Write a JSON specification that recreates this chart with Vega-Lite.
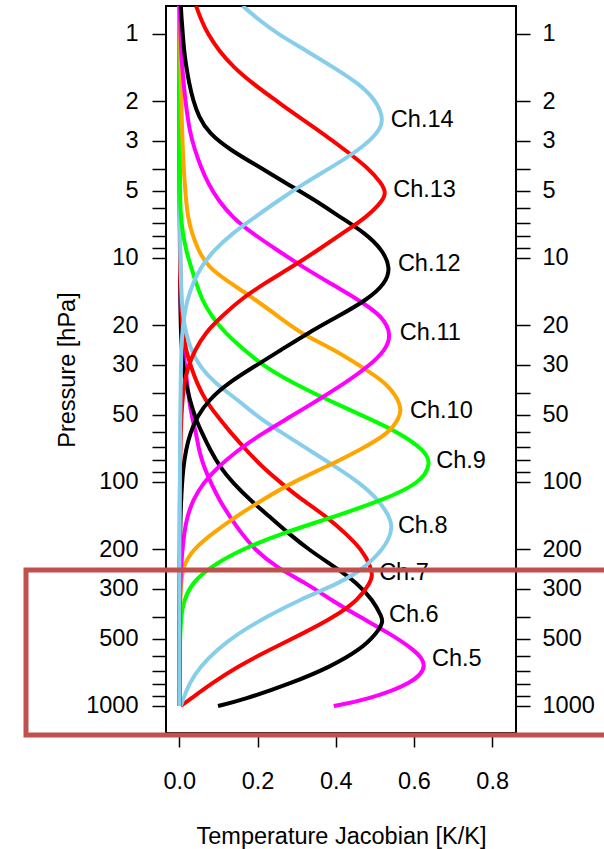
{
  "$schema": "https://vega.github.io/schema/vega-lite/v6.json",
  "width": 350,
  "height": 727,
  "autosize": "none",
  "padding": {"left": 166, "top": 6, "right": 88, "bottom": 116},
  "background": "white",
  "config": {
    "view": {"stroke": "black", "strokeWidth": 2},
    "font": "Liberation Sans",
    "axis": {"grid": false, "domain": false, "tickColor": "black", "tickWidth": 1.5, "tickSize": 14,
      "labelFont": "Liberation Sans", "labelFontSize": 23.5, "labelColor": "black",
      "titleFont": "Liberation Sans", "titleFontSize": 23.5, "titleFontWeight": "normal", "titleColor": "black"}
  },
  "datasets": {
    "curves": [
      {"ch":"Ch.5","p":0.75,"J":0},{"ch":"Ch.5","p":5.51,"J":0.001},{"ch":"Ch.5","p":15.4,"J":0.002},{"ch":"Ch.5","p":21.62,"J":0.006},{"ch":"Ch.5","p":30.66,"J":0.015},{"ch":"Ch.5","p":36.14,"J":0.02},{"ch":"Ch.5","p":43.05,"J":0.025},{"ch":"Ch.5","p":51.27,"J":0.032},{"ch":"Ch.5","p":60.42,"J":0.043},{"ch":"Ch.5","p":71.97,"J":0.05},{"ch":"Ch.5","p":85.7,"J":0.063},{"ch":"Ch.5","p":101,"J":0.081},{"ch":"Ch.5","p":120.3,"J":0.102},{"ch":"Ch.5","p":143.3,"J":0.13},{"ch":"Ch.5","p":168.9,"J":0.158},{"ch":"Ch.5","p":201.2,"J":0.194},{"ch":"Ch.5","p":239.6,"J":0.247},{"ch":"Ch.5","p":282.4,"J":0.324},{"ch":"Ch.5","p":336.4,"J":0.388},{"ch":"Ch.5","p":400.6,"J":0.462},{"ch":"Ch.5","p":472.2,"J":0.536},{"ch":"Ch.5","p":562.3,"J":0.602},{"ch":"Ch.5","p":655,"J":0.637},{"ch":"Ch.5","p":789.5,"J":0.601},{"ch":"Ch.5","p":940.2,"J":0.478},{"ch":"Ch.5","p":1000,"J":0.395},
      {"ch":"Ch.6","p":0.75,"J":0},{"ch":"Ch.6","p":15.4,"J":0.002},{"ch":"Ch.6","p":21.62,"J":0.004},{"ch":"Ch.6","p":30.66,"J":0.009},{"ch":"Ch.6","p":36.14,"J":0.017},{"ch":"Ch.6","p":43.05,"J":0.027},{"ch":"Ch.6","p":51.27,"J":0.04},{"ch":"Ch.6","p":60.42,"J":0.058},{"ch":"Ch.6","p":71.97,"J":0.079},{"ch":"Ch.6","p":85.7,"J":0.104},{"ch":"Ch.6","p":101,"J":0.137},{"ch":"Ch.6","p":120.3,"J":0.181},{"ch":"Ch.6","p":143.3,"J":0.232},{"ch":"Ch.6","p":168.9,"J":0.278},{"ch":"Ch.6","p":201.2,"J":0.332},{"ch":"Ch.6","p":239.6,"J":0.398},{"ch":"Ch.6","p":282.4,"J":0.455},{"ch":"Ch.6","p":336.4,"J":0.495},{"ch":"Ch.6","p":400.6,"J":0.518},{"ch":"Ch.6","p":421.7,"J":0.521},{"ch":"Ch.6","p":472.2,"J":0.506},{"ch":"Ch.6","p":562.3,"J":0.462},{"ch":"Ch.6","p":669.8,"J":0.385},{"ch":"Ch.6","p":789.5,"J":0.288},{"ch":"Ch.6","p":940.2,"J":0.162},{"ch":"Ch.6","p":1000,"J":0.099},
      {"ch":"Ch.7","p":0.75,"J":0},{"ch":"Ch.7","p":9.21,"J":0.001},{"ch":"Ch.7","p":15.4,"J":0.003},{"ch":"Ch.7","p":21.62,"J":0.009},{"ch":"Ch.7","p":25.75,"J":0.017},{"ch":"Ch.7","p":30.66,"J":0.03},{"ch":"Ch.7","p":36.14,"J":0.045},{"ch":"Ch.7","p":43.05,"J":0.066},{"ch":"Ch.7","p":51.27,"J":0.099},{"ch":"Ch.7","p":60.42,"J":0.132},{"ch":"Ch.7","p":71.97,"J":0.171},{"ch":"Ch.7","p":85.7,"J":0.212},{"ch":"Ch.7","p":101,"J":0.26},{"ch":"Ch.7","p":120.3,"J":0.314},{"ch":"Ch.7","p":143.3,"J":0.378},{"ch":"Ch.7","p":168.9,"J":0.424},{"ch":"Ch.7","p":201.2,"J":0.468},{"ch":"Ch.7","p":239.6,"J":0.49},{"ch":"Ch.7","p":262,"J":0.494},{"ch":"Ch.7","p":282.4,"J":0.488},{"ch":"Ch.7","p":336.4,"J":0.458},{"ch":"Ch.7","p":400.6,"J":0.396},{"ch":"Ch.7","p":472.2,"J":0.319},{"ch":"Ch.7","p":562.3,"J":0.229},{"ch":"Ch.7","p":669.8,"J":0.148},{"ch":"Ch.7","p":789.5,"J":0.084},{"ch":"Ch.7","p":940.2,"J":0.025},{"ch":"Ch.7","p":1000,"J":0.004},
      {"ch":"Ch.8","p":0.75,"J":0},{"ch":"Ch.8","p":5.51,"J":0.001},{"ch":"Ch.8","p":9.21,"J":0.002},{"ch":"Ch.8","p":12.93,"J":0.004},{"ch":"Ch.8","p":18.34,"J":0.009},{"ch":"Ch.8","p":21.62,"J":0.017},{"ch":"Ch.8","p":25.75,"J":0.03},{"ch":"Ch.8","p":30.66,"J":0.053},{"ch":"Ch.8","p":36.14,"J":0.091},{"ch":"Ch.8","p":43.05,"J":0.15},{"ch":"Ch.8","p":51.27,"J":0.201},{"ch":"Ch.8","p":60.42,"J":0.263},{"ch":"Ch.8","p":71.97,"J":0.332},{"ch":"Ch.8","p":85.7,"J":0.401},{"ch":"Ch.8","p":101,"J":0.462},{"ch":"Ch.8","p":120.3,"J":0.51},{"ch":"Ch.8","p":143.3,"J":0.538},{"ch":"Ch.8","p":158.8,"J":0.545},{"ch":"Ch.8","p":181.5,"J":0.535},{"ch":"Ch.8","p":201.2,"J":0.518},{"ch":"Ch.8","p":239.6,"J":0.477},{"ch":"Ch.8","p":282.4,"J":0.411},{"ch":"Ch.8","p":336.4,"J":0.306},{"ch":"Ch.8","p":400.6,"J":0.222},{"ch":"Ch.8","p":472.2,"J":0.152},{"ch":"Ch.8","p":562.3,"J":0.095},{"ch":"Ch.8","p":669.8,"J":0.053},{"ch":"Ch.8","p":789.5,"J":0.026},{"ch":"Ch.8","p":940.2,"J":0.009},{"ch":"Ch.8","p":1000,"J":0.004},
      {"ch":"Ch.9","p":0.75,"J":0},{"ch":"Ch.9","p":3.295,"J":0.001},{"ch":"Ch.9","p":5.51,"J":0.002},{"ch":"Ch.9","p":6.561,"J":0.004},{"ch":"Ch.9","p":7.734,"J":0.009},{"ch":"Ch.9","p":9.21,"J":0.017},{"ch":"Ch.9","p":10.97,"J":0.03},{"ch":"Ch.9","p":12.93,"J":0.043},{"ch":"Ch.9","p":15.4,"J":0.058},{"ch":"Ch.9","p":18.34,"J":0.084},{"ch":"Ch.9","p":21.62,"J":0.117},{"ch":"Ch.9","p":25.75,"J":0.166},{"ch":"Ch.9","p":30.66,"J":0.219},{"ch":"Ch.9","p":36.14,"J":0.291},{"ch":"Ch.9","p":43.05,"J":0.38},{"ch":"Ch.9","p":51.27,"J":0.477},{"ch":"Ch.9","p":60.42,"J":0.564},{"ch":"Ch.9","p":71.97,"J":0.626},{"ch":"Ch.9","p":82.3,"J":0.645},{"ch":"Ch.9","p":101,"J":0.617},{"ch":"Ch.9","p":120.3,"J":0.521},{"ch":"Ch.9","p":143.3,"J":0.394},{"ch":"Ch.9","p":168.9,"J":0.265},{"ch":"Ch.9","p":201.2,"J":0.155},{"ch":"Ch.9","p":239.6,"J":0.079},{"ch":"Ch.9","p":282.4,"J":0.032},{"ch":"Ch.9","p":336.4,"J":0.012},{"ch":"Ch.9","p":400.6,"J":0.004},{"ch":"Ch.9","p":562.3,"J":0.001},{"ch":"Ch.9","p":1000,"J":0},
      {"ch":"Ch.10","p":0.75,"J":0.001},{"ch":"Ch.10","p":1.404,"J":0.003},{"ch":"Ch.10","p":2.767,"J":0.007},{"ch":"Ch.10","p":3.925,"J":0.011},{"ch":"Ch.10","p":5.51,"J":0.017},{"ch":"Ch.10","p":6.561,"J":0.022},{"ch":"Ch.10","p":7.734,"J":0.032},{"ch":"Ch.10","p":9.21,"J":0.048},{"ch":"Ch.10","p":10.97,"J":0.073},{"ch":"Ch.10","p":12.93,"J":0.13},{"ch":"Ch.10","p":15.4,"J":0.196},{"ch":"Ch.10","p":18.34,"J":0.255},{"ch":"Ch.10","p":21.62,"J":0.309},{"ch":"Ch.10","p":25.75,"J":0.398},{"ch":"Ch.10","p":30.66,"J":0.467},{"ch":"Ch.10","p":36.14,"J":0.53},{"ch":"Ch.10","p":43.05,"J":0.561},{"ch":"Ch.10","p":47.7,"J":0.567},{"ch":"Ch.10","p":51.27,"J":0.563},{"ch":"Ch.10","p":60.42,"J":0.538},{"ch":"Ch.10","p":71.97,"J":0.462},{"ch":"Ch.10","p":85.7,"J":0.375},{"ch":"Ch.10","p":101,"J":0.286},{"ch":"Ch.10","p":120.3,"J":0.212},{"ch":"Ch.10","p":143.3,"J":0.143},{"ch":"Ch.10","p":168.9,"J":0.086},{"ch":"Ch.10","p":201.2,"J":0.033},{"ch":"Ch.10","p":239.6,"J":0.009},{"ch":"Ch.10","p":282.4,"J":0.004},{"ch":"Ch.10","p":400.6,"J":0.001},{"ch":"Ch.10","p":1000,"J":0},
      {"ch":"Ch.11","p":0.75,"J":0.001},{"ch":"Ch.11","p":1.0,"J":0.003},{"ch":"Ch.11","p":1.404,"J":0.007},{"ch":"Ch.11","p":1.971,"J":0.015},{"ch":"Ch.11","p":2.767,"J":0.027},{"ch":"Ch.11","p":3.295,"J":0.04},{"ch":"Ch.11","p":3.925,"J":0.055},{"ch":"Ch.11","p":4.626,"J":0.073},{"ch":"Ch.11","p":5.51,"J":0.099},{"ch":"Ch.11","p":6.561,"J":0.135},{"ch":"Ch.11","p":7.734,"J":0.185},{"ch":"Ch.11","p":9.21,"J":0.25},{"ch":"Ch.11","p":10.97,"J":0.316},{"ch":"Ch.11","p":12.93,"J":0.385},{"ch":"Ch.11","p":15.4,"J":0.459},{"ch":"Ch.11","p":18.34,"J":0.522},{"ch":"Ch.11","p":22.07,"J":0.542},{"ch":"Ch.11","p":25.75,"J":0.528},{"ch":"Ch.11","p":30.66,"J":0.482},{"ch":"Ch.11","p":36.14,"J":0.424},{"ch":"Ch.11","p":43.05,"J":0.355},{"ch":"Ch.11","p":51.27,"J":0.283},{"ch":"Ch.11","p":60.42,"J":0.214},{"ch":"Ch.11","p":71.97,"J":0.15},{"ch":"Ch.11","p":85.7,"J":0.099},{"ch":"Ch.11","p":101,"J":0.061},{"ch":"Ch.11","p":120.3,"J":0.035},{"ch":"Ch.11","p":143.3,"J":0.02},{"ch":"Ch.11","p":168.9,"J":0.012},{"ch":"Ch.11","p":239.6,"J":0.004},{"ch":"Ch.11","p":336.4,"J":0.001},{"ch":"Ch.11","p":1000,"J":0},
      {"ch":"Ch.12","p":0.75,"J":0.004},{"ch":"Ch.12","p":0.866,"J":0.006},{"ch":"Ch.12","p":1.0,"J":0.009},{"ch":"Ch.12","p":1.179,"J":0.012},{"ch":"Ch.12","p":1.404,"J":0.018},{"ch":"Ch.12","p":1.655,"J":0.025},{"ch":"Ch.12","p":1.971,"J":0.035},{"ch":"Ch.12","p":2.347,"J":0.05},{"ch":"Ch.12","p":2.767,"J":0.075},{"ch":"Ch.12","p":3.295,"J":0.13},{"ch":"Ch.12","p":3.925,"J":0.205},{"ch":"Ch.12","p":4.626,"J":0.272},{"ch":"Ch.12","p":5.51,"J":0.347},{"ch":"Ch.12","p":6.561,"J":0.411},{"ch":"Ch.12","p":7.734,"J":0.475},{"ch":"Ch.12","p":9.21,"J":0.52},{"ch":"Ch.12","p":11.08,"J":0.54},{"ch":"Ch.12","p":12.93,"J":0.528},{"ch":"Ch.12","p":15.4,"J":0.48},{"ch":"Ch.12","p":18.34,"J":0.403},{"ch":"Ch.12","p":21.62,"J":0.329},{"ch":"Ch.12","p":25.75,"J":0.26},{"ch":"Ch.12","p":30.66,"J":0.19},{"ch":"Ch.12","p":36.14,"J":0.125},{"ch":"Ch.12","p":43.05,"J":0.075},{"ch":"Ch.12","p":51.27,"J":0.045},{"ch":"Ch.12","p":60.42,"J":0.028},{"ch":"Ch.12","p":71.97,"J":0.017},{"ch":"Ch.12","p":85.7,"J":0.01},{"ch":"Ch.12","p":120.3,"J":0.004},{"ch":"Ch.12","p":201.2,"J":0.001},{"ch":"Ch.12","p":1000,"J":0},
      {"ch":"Ch.13","p":0.75,"J":0.043},{"ch":"Ch.13","p":0.866,"J":0.056},{"ch":"Ch.13","p":1.0,"J":0.073},{"ch":"Ch.13","p":1.179,"J":0.1},{"ch":"Ch.13","p":1.404,"J":0.138},{"ch":"Ch.13","p":1.655,"J":0.186},{"ch":"Ch.13","p":1.971,"J":0.245},{"ch":"Ch.13","p":2.347,"J":0.306},{"ch":"Ch.13","p":2.767,"J":0.365},{"ch":"Ch.13","p":3.295,"J":0.424},{"ch":"Ch.13","p":3.925,"J":0.48},{"ch":"Ch.13","p":4.626,"J":0.517},{"ch":"Ch.13","p":5.075,"J":0.528},{"ch":"Ch.13","p":5.51,"J":0.522},{"ch":"Ch.13","p":6.561,"J":0.48},{"ch":"Ch.13","p":7.734,"J":0.418},{"ch":"Ch.13","p":9.21,"J":0.355},{"ch":"Ch.13","p":10.97,"J":0.288},{"ch":"Ch.13","p":12.93,"J":0.219},{"ch":"Ch.13","p":15.4,"J":0.155},{"ch":"Ch.13","p":18.34,"J":0.107},{"ch":"Ch.13","p":21.62,"J":0.066},{"ch":"Ch.13","p":25.75,"J":0.04},{"ch":"Ch.13","p":30.66,"J":0.022},{"ch":"Ch.13","p":36.14,"J":0.012},{"ch":"Ch.13","p":51.27,"J":0.004},{"ch":"Ch.13","p":101,"J":0.001},{"ch":"Ch.13","p":1000,"J":0},
      {"ch":"Ch.14","p":0.75,"J":0.162},{"ch":"Ch.14","p":0.866,"J":0.204},{"ch":"Ch.14","p":1.0,"J":0.252},{"ch":"Ch.14","p":1.179,"J":0.322},{"ch":"Ch.14","p":1.404,"J":0.393},{"ch":"Ch.14","p":1.655,"J":0.457},{"ch":"Ch.14","p":1.971,"J":0.503},{"ch":"Ch.14","p":2.42,"J":0.524},{"ch":"Ch.14","p":2.767,"J":0.508},{"ch":"Ch.14","p":3.295,"J":0.46},{"ch":"Ch.14","p":3.925,"J":0.39},{"ch":"Ch.14","p":4.626,"J":0.321},{"ch":"Ch.14","p":5.51,"J":0.255},{"ch":"Ch.14","p":6.561,"J":0.194},{"ch":"Ch.14","p":7.734,"J":0.137},{"ch":"Ch.14","p":9.21,"J":0.089},{"ch":"Ch.14","p":10.97,"J":0.055},{"ch":"Ch.14","p":12.93,"J":0.035},{"ch":"Ch.14","p":15.4,"J":0.02},{"ch":"Ch.14","p":18.34,"J":0.012},{"ch":"Ch.14","p":21.62,"J":0.007},{"ch":"Ch.14","p":30.66,"J":0.004},{"ch":"Ch.14","p":51.27,"J":0.002},{"ch":"Ch.14","p":120.3,"J":0.001},{"ch":"Ch.14","p":1000,"J":0}
    ],
    "labels": [
      {"ch":"Ch.14","J":0.541,"p":2.42},{"ch":"Ch.13","J":0.547,"p":4.97},{"ch":"Ch.12","J":0.559,"p":10.6},{"ch":"Ch.11","J":0.564,"p":21.6},{"ch":"Ch.10","J":0.59,"p":48.2},{"ch":"Ch.9","J":0.657,"p":80.6},{"ch":"Ch.8","J":0.559,"p":157},{"ch":"Ch.7","J":0.511,"p":255},{"ch":"Ch.6","J":0.536,"p":392},{"ch":"Ch.5","J":0.646,"p":617}
    ],
    "box": [{"x1": -0.392, "x2": 1.2, "p1": 247, "p2": 1348}]
  },
  "layer": [
    {
      "mark": {"type": "rule", "color": "black", "strokeWidth": 1},
      "encoding": {"x": {"datum": 0, "type": "quantitative",
        "scale": {"domain": [-0.034, 0.861], "nice": false, "zero": false},
        "axis": {"values": [0, 0.2, 0.4, 0.6, 0.8], "format": ".1f", "labelPadding": 22, "title": "Temperature Jacobian [K/K]", "titleY": 110, "titleBaseline": "alphabetic"}}}
    },
    {
      "data": {"name": "curves"},
      "mark": {"type": "line", "interpolate": "basis", "strokeWidth": 4, "clip": true},
      "encoding": {
        "x": {"field": "J", "type": "quantitative",
          "axis": {"values": [0, 0.2, 0.4, 0.6, 0.8], "format": ".1f", "labelPadding": 22, "title": "Temperature Jacobian [K/K]", "titleY": 110, "titleBaseline": "alphabetic"}},
        "y": {"field": "p", "type": "quantitative",
          "scale": {"type": "log", "domain": [0.75, 1320], "reverse": true, "nice": false},
          "axis": {"orient": "left", "values": [1,2,3,4,5,6,7,8,9,10,20,30,40,50,60,70,80,90,100,200,300,400,500,600,700,800,900,1000],
            "labelExpr": "indexof([1,2,3,5,10,20,30,50,100,200,300,500,1000], datum.value) >= 0 ? '' + datum.value : ''",
            "labelOverlap": false, "labelPadding": 14, "title": "Pressure [hPa]", "titleX": -92, "titleY": 363.5, "titleAngle": -90, "titleBaseline": "alphabetic", "titleAlign": "center"}},
        "color": {"field": "ch", "type": "nominal",
          "scale": {"domain": ["Ch.5","Ch.6","Ch.7","Ch.8","Ch.9","Ch.10","Ch.11","Ch.12","Ch.13","Ch.14"],
            "range": ["#FF00FF","#000000","#FF0000","#87CEEB","#00FF00","#FFA500","#FF00FF","#000000","#FF0000","#87CEEB"]},
          "legend": null},
        "order": {"field": "p", "type": "quantitative"}
      }
    },
    {
      "data": {"name": "labels"},
      "mark": {"type": "text", "align": "left", "baseline": "middle", "fontSize": 23.5, "font": "Liberation Sans", "color": "black"},
      "encoding": {
        "x": {"field": "J", "type": "quantitative",
          "axis": {"values": [0, 0.2, 0.4, 0.6, 0.8], "format": ".1f", "labelPadding": 22, "title": "Temperature Jacobian [K/K]", "titleY": 110, "titleBaseline": "alphabetic"}},
        "y": {"field": "p", "type": "quantitative",
          "axis": {"orient": "right", "values": [1,2,3,4,5,6,7,8,9,10,20,30,40,50,60,70,80,90,100,200,300,400,500,600,700,800,900,1000],
            "labelExpr": "indexof([1,2,3,5,10,20,30,50,100,200,300,500,1000], datum.value) >= 0 ? '' + datum.value : ''",
            "labelOverlap": false, "labelPadding": 12, "title": null}},
        "text": {"field": "ch"}
      }
    },
    {
      "data": {"name": "box"},
      "mark": {"type": "rect", "filled": false, "stroke": "#C0504D", "strokeWidth": 5, "clip": false},
      "encoding": {
        "x": {"field": "x1", "type": "quantitative",
          "axis": {"values": [0, 0.2, 0.4, 0.6, 0.8], "format": ".1f", "labelPadding": 22, "title": "Temperature Jacobian [K/K]", "titleY": 110, "titleBaseline": "alphabetic"}},
        "x2": {"field": "x2"},
        "y": {"field": "p1", "type": "quantitative", "axis": null},
        "y2": {"field": "p2"}
      }
    }
  ],
  "resolve": {"axis": {"y": "independent"}}
}
